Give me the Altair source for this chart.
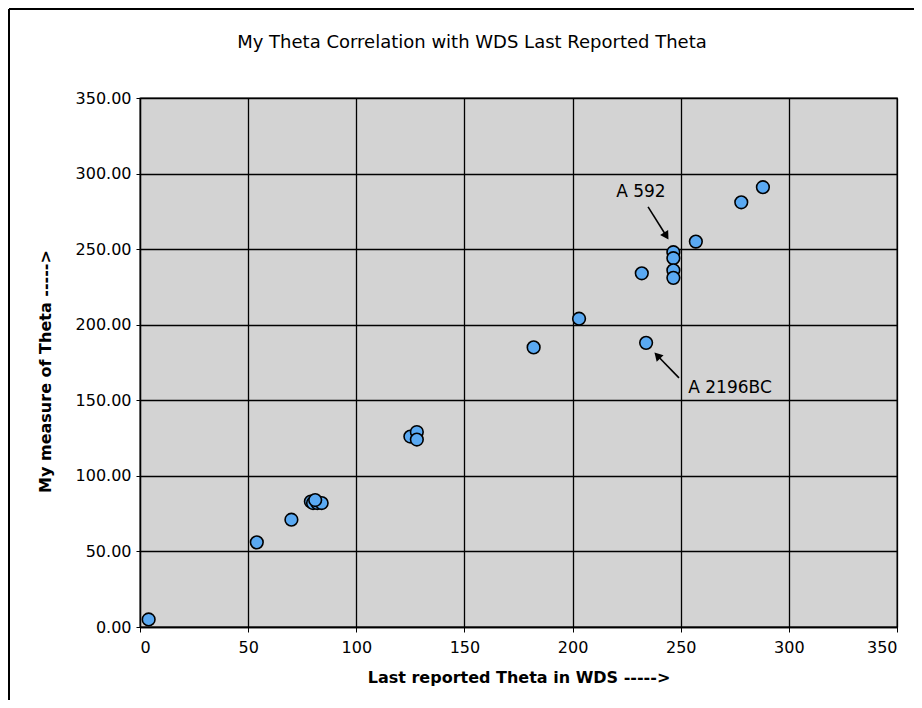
import altair as alt
import pandas as pd

wds_theta = [4, 54, 70, 79, 80, 82, 84, 81, 125, 128, 128, 182, 203, 232, 234,
             246.6, 246.6, 246.6, 246.6, 257, 278, 288]
my_theta = [5, 56, 71, 83, 82, 82, 82, 84, 126, 129, 124, 185, 204, 234, 188,
            248, 244, 236, 231, 255, 281, 291]

labels = ["A 592", "A 2196BC"]
label_x = [231.6, 272.8]
label_y = [288, 158]
arrow_x1 = [234.9, 249.2]
arrow_y1 = [278, 164.8]
arrow_x2 = [243.0, 239.6]
arrow_y2 = [259.5, 179.0]
arrow_angle = [148, 316]

df = pd.DataFrame({"x": wds_theta, "y": my_theta})
ann = pd.DataFrame({"label": labels, "x": label_x, "y": label_y})
arr = pd.DataFrame({"x1": arrow_x1, "y1": arrow_y1, "x2": arrow_x2, "y2": arrow_y2,
                    "angle": arrow_angle})
one = pd.DataFrame({"t": ["My Theta Correlation with WDS Last Reported Theta"]})

xscale = alt.Scale(domain=[0, 350], nice=False, zero=False)
yscale = alt.Scale(domain=[0, 350], nice=False, zero=False)

xaxis = alt.Axis(values=[0, 50, 100, 150, 200, 250, 300, 350], title="Last reported Theta in WDS ----->",
                 grid=True, gridColor="black", gridWidth=1.3, gridOpacity=1,
                 domainColor="black", domainWidth=1.3, tickColor="black", tickSize=5,
                 labelFont="DejaVu Sans", labelFontSize=16, labelColor="black", labelPadding=7,
                 titleFont="DejaVu Sans", titleFontSize=16, titleFontWeight="bold", titleColor="black",
                 titlePadding=14)
yaxis = alt.Axis(values=[0, 50, 100, 150, 200, 250, 300, 350], format=".2f",
                 title="My measure of Theta ----->",
                 grid=True, gridColor="black", gridWidth=1.3, gridOpacity=1,
                 domainColor="black", domainWidth=1.3, tickColor="black", tickSize=4,
                 labelFont="DejaVu Sans", labelFontSize=16, labelColor="black", labelPadding=5,
                 titleFont="DejaVu Sans", titleFontSize=16, titleFontWeight="bold", titleColor="black",
                 titlePadding=22, titleY=273)

points = alt.Chart(df).mark_point(filled=True, size=160, fill="#5aa9f2", stroke="black",
                                  strokeWidth=1.6, opacity=1, shape="circle").encode(
    x=alt.X("x:Q", scale=xscale, axis=xaxis),
    y=alt.Y("y:Q", scale=yscale, axis=yaxis),
)

texts = alt.Chart(ann).mark_text(font="DejaVu Sans", fontSize=17, color="black").encode(
    x=alt.X("x:Q", scale=xscale), y=alt.Y("y:Q", scale=yscale), text="label:N"
)

lines = alt.Chart(arr).mark_rule(color="black", strokeWidth=1.6).encode(
    x=alt.X("x1:Q", scale=xscale), y=alt.Y("y1:Q", scale=yscale),
    x2="x2:Q", y2="y2:Q"
)
heads = alt.Chart(arr).mark_point(shape="triangle", filled=True, color="black", size=90,
                                  opacity=1).encode(
    x=alt.X("x2:Q", scale=xscale), y=alt.Y("y2:Q", scale=yscale),
    angle=alt.Angle("angle:Q", scale=None)
)

title = alt.Chart(one).mark_text(font="DejaVu Sans", fontSize=18, color="black").encode(
    x=alt.value(332), y=alt.value(-55), text="t:N"
)

frame_top = alt.Chart(one).mark_rule(color="black", strokeWidth=2, clip=False).encode(
    x=alt.value(-131), x2=alt.value(800), y=alt.value(-89)
)
frame_left = alt.Chart(one).mark_rule(color="black", strokeWidth=2, clip=False).encode(
    x=alt.value(-131), y=alt.value(-89), y2=alt.value(620)
)

chart = alt.layer(points, lines, heads, texts, title, frame_top, frame_left).properties(
    width=757, height=529,
    autosize=alt.AutoSizeParams(type="none"),
    padding={"left": 132, "top": 90, "right": 17, "bottom": 73},
).configure(background="white").configure_view(fill="#d3d3d3", stroke="black", strokeWidth=1.3)

chart.save("out.html", embed_options={"renderer": "svg", "actions": False})
